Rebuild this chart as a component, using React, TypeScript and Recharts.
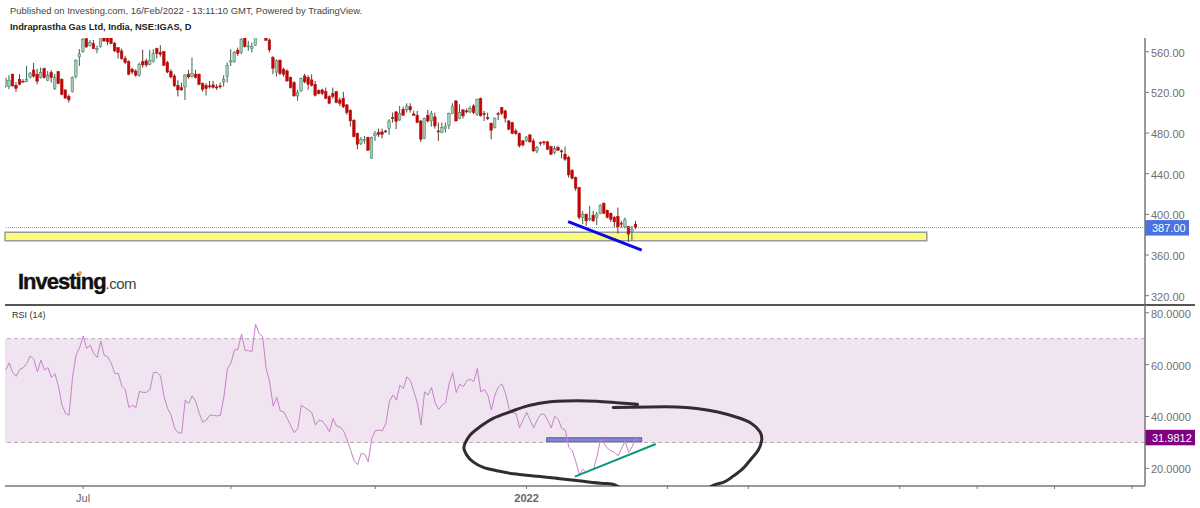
import * as React from "react";
import {
  ComposedChart,
  Bar,
  Line,
  Scatter,
  XAxis,
  YAxis,
  ReferenceArea,
  ReferenceLine,
} from "recharts";

// candles, in price units, one entry per trading day
const opens = [
  525.7, 525.7, 538, 527, 533, 531, 531, 535, 542, 538, 534.6, 543.4, 532, 539.5, 523.7, 540.5, 533, 522.4, 516, 520.8,
  535.6, 555, 560, 573, 566.4, 568, 562, 565, 574, 574, 574, 568.4, 564, 560.8, 553.3, 550.3, 542.8, 541, 536.9, 550.3,
  551, 547.7, 550.3, 563, 559.2, 560.2, 549.3, 540.5, 536.2, 527, 524.7, 525.4, 537.9, 535.6, 537.9, 537.9, 528.7, 527, 526.4, 527.4,
  525.4, 526.4, 530.3, 535.6, 550, 550, 561.5, 559.2, 573.9, 565, 563, 566.4, 578, 586, 574, 571.6, 554.2, 540, 551.6, 542.8,
  541.1, 534.6, 529.6, 516.5, 521.4, 536.2, 534.6, 532.3, 528, 522, 522.4, 520.8, 515.9, 518.8, 520.8, 512.6, 514.2, 507.7, 502.4, 492.6,
  479.8, 469.6, 472.8, 475.6, 455.2, 477.2, 480.5, 481.1, 482.1, 484.7, 495.2, 500.8, 492.9, 503.4, 502.8, 506, 498.8, 497.5, 491.9, 474.6,
  497.5, 491.9, 495.9, 482.1, 480.5, 484.7, 487.7, 499.5, 511.6, 494.2, 502.8, 501.8, 500.8, 506.7, 498.5, 514.2, 499.2, 495.2, 489.7, 485.4,
  499.2, 505, 501.8, 491.9, 490.3, 482.1, 479.5, 472.3, 472.3, 478.2, 472.3, 462.4, 470.6, 471.3, 471.3, 466.7, 460.8, 465.7, 462.4, 459.2,
  455.9, 443.4, 436.2, 426.4, 396.9, 400.2, 395.2, 399.2, 396.9, 401.1, 411, 404.1, 401.1, 396.9, 397.9, 391.3, 387.7, 388, 383.1, 390.3,
];
const highs = [
  534, 536.9, 538, 530, 538, 533, 546, 540, 549, 543, 544.4, 544.4, 541, 542, 538, 541, 533.6, 523, 518, 535.6,
  552.6, 562.5, 573.9, 574, 571.6, 571.6, 566, 577, 575.6, 575.6, 575.6, 569.7, 564.7, 563, 555.9, 551.6, 544.4, 542.8, 549.3, 562,
  553.3, 561.8, 562.5, 564, 566.4, 560.8, 551, 542.8, 538, 532, 529.7, 538, 542, 554.2, 542, 538.5, 529.7, 529, 531.3, 531.3,
  528, 529.7, 536.9, 549.3, 562.5, 560.8, 564, 573.9, 575, 570.6, 569, 575.6, 590, 592, 578.9, 573, 555.9, 552.6, 552.6, 544.4,
  542.8, 535.5, 531, 522.4, 534.6, 538.2, 536.9, 537.8, 531.3, 523, 523.7, 524.7, 517.2, 524.7, 521.4, 514.9, 520.5, 508.5, 503.4, 493.6,
  480.4, 476.2, 477.2, 476.5, 476.5, 482.1, 484.4, 484.4, 483.1, 493.6, 500.1, 501.8, 506.7, 506, 509.3, 509.3, 501.8, 501.8, 492.9, 495.2,
  502.8, 501.8, 500.1, 490.3, 490.3, 490.3, 500.1, 509.3, 512.3, 508.3, 503.4, 504, 506.7, 508.3, 513.9, 514.9, 501.8, 500.1, 490.3, 495.2,
  500.8, 505.7, 502.8, 492.9, 491, 484.4, 480.5, 473.3, 477.2, 478.8, 474.6, 467.4, 471.6, 472.3, 472.3, 467.4, 467.4, 467.4, 464, 466.7,
  457.5, 444.4, 437.2, 427, 403.4, 400.8, 408.4, 403.4, 402.5, 410, 411.6, 404.4, 401.8, 398.5, 406.7, 393.6, 396.9, 388.7, 388.7, 393.6,
];
const lows = [
  524.7, 523, 525.7, 520.5, 527, 530, 530, 533.6, 534.6, 528, 533.6, 533.6, 531, 529.7, 522.4, 528, 517.2, 514, 510, 519.8,
  533.6, 546, 559, 563.8, 565, 562.5, 558.5, 564, 569.7, 566.4, 567.4, 559.8, 553.3, 552, 547.7, 536.9, 537.9, 535.6, 535.6, 544.4,
  545, 546.7, 549.3, 553.3, 555.2, 546, 538.8, 533.6, 525.4, 516, 521.5, 512.6, 533.6, 534.6, 533.6, 527, 520.8, 517, 523.7, 523.7,
  522.4, 523.7, 525.7, 529.7, 546, 549.3, 555.9, 557.5, 564, 560.8, 559.2, 565.7, 574.5, 575, 570.6, 559.2, 537.9, 535.6, 536.9, 535.6,
  530.3, 523.7, 515.9, 511.6, 520.5, 529, 522.4, 525.7, 515.9, 518, 517.2, 513.3, 508.3, 513.9, 509.3, 506.7, 504.7, 498, 486.4, 475.6,
  464, 468, 469.6, 462.4, 454.8, 472.3, 476.2, 474.6, 480.1, 478.2, 490.3, 483.8, 491.9, 497, 500.1, 500.1, 496.9, 489.7, 471.3, 473.9,
  490.3, 486.4, 484.4, 472.3, 479.8, 480.5, 483.8, 498.5, 491.3, 493.6, 494.2, 499.5, 499.5, 498.5, 496.9, 496.2, 491.9, 492.9, 473.9, 484.4,
  492.9, 497.5, 490.3, 482.8, 478.8, 478.2, 465.7, 466.7, 471.3, 470.6, 461.5, 460.2, 467.4, 468, 463.1, 458.2, 459.2, 462.4, 455, 452.6,
  436.2, 434.6, 423.1, 395, 390.3, 388.7, 393.6, 392.6, 389.3, 400.2, 400.2, 396.2, 392.6, 387, 381.1, 387, 386, 373, 374, 385.4,
];
const closes = [
  534, 532, 526.4, 524, 528, 530.5, 533, 539, 536, 531, 539.5, 534.6, 537, 534.6, 535, 528.7, 518, 514.3, 512.6, 534.6,
  551.6, 558, 572.3, 564.7, 569, 563, 563, 574, 570.6, 569.7, 568, 560.8, 559.2, 553.3, 549.3, 537.9, 540, 536.9, 547.7, 547,
  547, 551.6, 558.5, 558.2, 557.5, 546.7, 540, 535.2, 526.4, 522.4, 522.4, 537, 535.2, 538.8, 534.6, 528, 523, 523.7, 525.7, 525,
  524.7, 525.4, 533, 546.7, 551, 559.2, 558.2, 572.3, 565, 565.7, 565, 573.9, 586, 580, 571.3, 561.8, 543.8, 551, 538.8, 537.9,
  531.3, 524.7, 516.5, 519.8, 533.6, 530.3, 528, 527, 517.2, 518.8, 518.8, 514.2, 509.3, 515.9, 510, 509.3, 505.7, 500.1, 492, 476.5,
  469, 473.9, 473.5, 463.1, 475.6, 479.5, 478.8, 478.8, 481.1, 491.9, 494.2, 491.3, 499.5, 497.5, 506.7, 502.8, 497.5, 490.3, 473.9, 494.6,
  491.9, 499.5, 487, 481.1, 485.4, 486.4, 499.2, 506.7, 491.9, 500.1, 496.9, 500.8, 504, 500.1, 513.3, 496.9, 498.2, 494.2, 482.8, 494.6,
  498.2, 499.5, 494.6, 483.8, 479.5, 479.5, 467.4, 468.3, 476.2, 471.3, 462.4, 465.7, 469.6, 470.6, 464.1, 459.2, 464.7, 463.1, 461.8, 454.2,
  438.8, 435.5, 425.7, 396.9, 400.2, 393.6, 396, 393.6, 400.2, 409, 401.1, 396.9, 395.2, 392.6, 387.7, 390.3, 394.6, 380.5, 385.4, 387,
];

const rsiValues = [
  57.9, 60.7, 56.9, 55.5, 58.2, 58.8, 60.5, 63.4, 62, 57.2, 61.7, 57.9, 58.9, 55.1, 56.5, 51.5, 44.4, 41.2, 40.5, 55.3,
  63.7, 66.6, 71, 66.3, 67.5, 64.3, 62.8, 69.1, 63.6, 63, 60.5, 56.6, 56.6, 51.7, 50.2, 43.5, 44.3, 43.5, 49.7, 49.3,
  49.3, 50.4, 57, 57, 55.6, 47.6, 43.1, 40.5, 35.4, 33.7, 33.6, 46.3, 45, 48, 45.7, 41.2, 37.8, 38.6, 40.5, 40.5,
  40.2, 40.5, 47.6, 58.5, 60.7, 65.6, 65.9, 71.8, 65.6, 65.4, 65.1, 75.6, 72, 70.8, 58.5, 53.4, 44, 47.4, 42.2, 41.8,
  39.2, 36.4, 33.7, 35.4, 44.4, 43.4, 42.5, 41.4, 36.7, 38.6, 38.2, 36.4, 34.1, 39.2, 36.3, 36, 34.4, 31.1, 27, 22.9,
  21.4, 25.8, 25.5, 22.5, 31.5, 34.5, 34.8, 34.5, 37.3, 45.7, 48.3, 46.3, 52.1, 50.8, 55.3, 53.8, 49.5, 45, 36.7, 49.5,
  48.3, 51.2, 45.3, 42.7, 44.4, 45.4, 52.8, 56.9, 49.2, 52.5, 51.5, 53.8, 54.4, 53.4, 58.5, 49.5, 50.4, 48.3, 42.5, 48.3,
  51.5, 52.5, 48.9, 43.1, 41.4, 41.2, 35.6, 38.6, 41.6, 38.6, 35.6, 38.6, 40.9, 40.9, 38.6, 35.6, 40.1, 38.9, 35.4, 34.8,
  28.1, 26.8, 22.5, 17.4, 19.6, 18.4, 19.3, 19.6, 24.5, 31.3, 29.6, 27.7, 26.8, 26.1, 24.9, 27.7, 30.5, 26.1, 28.3, 31.98,
];

// the hand drawn ring on the RSI pane, as [bar index, rsi]
const ringPoints = [
  [179.5, 44.7], [173.6, 45.3], [167.9, 45.9], [162.2, 46.1], [156.5, 45.9], [152.7, 45.3], [148, 44], [143.3, 41.8],
  [138.5, 39.3], [134.7, 36], [131.9, 32.8], [130.5, 29.6], [130.2, 27.7], [131, 25.1], [132.8, 22.5], [135.7, 20.4],
  [139.5, 19.1], [144.2, 17.9], [150.9, 17], [157.5, 16], [164.1, 15], [169.8, 14.2], [173.1, 13.6], [178, 11],
  [190, 9.5], [197, 10.5], [201, 13.4], [203.9, 14.6], [206.7, 17], [209.5, 20], [211.9, 23.8], [213.8, 27],
  [214.8, 30.9], [214.3, 34.1], [211.9, 37.3], [207.7, 39.7], [202, 41.8], [196.3, 43.1], [190.6, 43.7], [183, 43.7],
  [172.6, 43.5],
];

const priceTicks = [320, 360, 400, 440, 480, 520, 560];
const rsiTicks = [20, 40, 60, 80];
const timeTicks = [22, 64, 105, 148, 188, 211, 254, 276, 298, 320];
const timeLabels: Record<number, string> = { 22: "Jul", 148: "2022" };

const lastPrice = 387;
const lastRsi = 31.9812;

const FONT = "'Liberation Sans', Arial, sans-serif";
const AXIS = "#777777";
const X_DOMAIN: [number, number] = [-0.2, 323.7];

const candles = opens.map((o, i) => ({ i, open: o, high: highs[i], low: lows[i], close: closes[i], range: [lows[i], highs[i]] }));
const rsiRows = rsiValues.map((rsi, i) => ({ i, rsi }));
const ringRows = ringPoints.map(([i, rsi]) => ({ i, rsi }));

function Candle(props: any) {
  const { x, y, width, height, payload } = props;
  const up = payload.close >= payload.open;
  const perUnit = height / (payload.high - payload.low);
  const top = y + (payload.high - Math.max(payload.open, payload.close)) * perUnit;
  const bodyH = Math.max(Math.abs(payload.open - payload.close) * perUnit, 1);
  const cx = x + width / 2;
  return (
    <g>
      <line x1={cx} x2={cx} y1={y} y2={y + height} stroke={up ? "#2f6a4c" : "#5d3f35"} strokeWidth={1} />
      <rect
        x={cx - 1.3}
        y={top}
        width={2.6}
        height={bodyH}
        fill={up ? "#a9c9b4" : "#cc0000"}
        stroke={up ? "#3f7a5c" : "#a51818"}
        strokeWidth={0.5}
      />
    </g>
  );
}

function ValueTag({ viewBox, text, fill, w }: any) {
  const x = viewBox.x + viewBox.width;
  const y = viewBox.y;
  return (
    <g>
      <rect x={x} y={y - 7.5} width={w} height={15.5} fill={fill} />
      <text x={x + 7} y={y + 4.3} fill="#fff" fontSize={11} fontFamily={FONT}>
        {text}
      </text>
    </g>
  );
}

function TimeTick({ x, y, payload }: any) {
  const label = timeLabels[payload.value];
  if (!label) return null;
  return (
    <text x={x} y={y + 11} textAnchor="middle" fill="#666" fontSize={11} fontWeight={label === "2022" ? 700 : 400} fontFamily={FONT}>
      {label}
    </text>
  );
}

const tickStyle = { fill: "#707070", fontSize: 11, fontFamily: FONT, dy: 1 };

export default function App() {
  return (
    <div style={{ position: "absolute", left: 0, top: 0, width: 1200, height: 508, background: "#fff", fontFamily: FONT, overflow: "hidden" }}>
      <div style={{ position: "absolute", left: 10, top: 5, fontSize: 9.45, color: "#444", whiteSpace: "nowrap" }}>
        Published on Investing.com, 16/Feb/2022 - 13:11:10 GMT, Powered by TradingView.
      </div>
      <div style={{ position: "absolute", left: 10, top: 22, fontSize: 9.25, fontWeight: 700, color: "#222", whiteSpace: "nowrap" }}>
        Indraprastha Gas Ltd, India, NSE:IGAS, D
      </div>

      <div style={{ position: "absolute", left: 0, top: 0 }}>
        <ComposedChart width={1200} height={305} data={candles} margin={{ top: 38, right: 0, bottom: 1, left: 5 }}>
          <XAxis dataKey="i" type="number" domain={X_DOMAIN} allowDataOverflow hide />
          <YAxis
            orientation="right"
            width={55}
            domain={[311.8, 573.5]}
            allowDataOverflow
            ticks={priceTicks}
            tickFormatter={(v: number) => v.toFixed(2)}
            tick={tickStyle}
            tickSize={4}
            tickMargin={2}
            interval={0}
            axisLine={{ stroke: AXIS, strokeWidth: 1.5 }}
            tickLine={{ stroke: AXIS }}
          />
          <ReferenceArea x1={-0.2} x2={261.7} y1={374.1} y2={382.4} fill="#fbfb7c" fillOpacity={1} stroke="#9a9a9a" strokeWidth={1.5} />
          <ReferenceLine
            y={lastPrice}
            stroke="#7f96ea"
            strokeWidth={1}
            strokeDasharray="1 1"
            label={<ValueTag text={lastPrice.toFixed(2)} fill="#4a72e0" w={44} />}
          />
          <Bar dataKey="range" barSize={3} shape={Candle} isAnimationActive={false} />
          <ReferenceLine
            segment={[
              { x: 159.8, y: 392.8 },
              { x: 180.7, y: 364.8 },
            ]}
            stroke="#0a0ae0"
            strokeWidth={3}
          />
        </ComposedChart>
      </div>

      <div style={{ position: "absolute", left: 5, top: 304, width: 1190, height: 2, background: "#555" }} />

      <div style={{ position: "absolute", left: 18, top: 269, fontSize: 22, fontWeight: 700, letterSpacing: -1, color: "#111", whiteSpace: "nowrap", lineHeight: "26px", WebkitTextStroke: "0.4px #111" }}>
        Investing<span style={{ fontSize: 15, fontWeight: 400, letterSpacing: -0.5, color: "#444", WebkitTextStroke: "0" }}>.com</span>
      </div>
      <div style={{ position: "absolute", left: 78, top: 271, width: 4, height: 4, borderRadius: 2, background: "#f5a623" }} />

      <div style={{ position: "absolute", left: 12, top: 310, fontSize: 9, color: "#333", whiteSpace: "nowrap" }}>RSI (14)</div>

      <div style={{ position: "absolute", left: 0, top: 305 }}>
        <ComposedChart width={1200} height={203} data={rsiRows} margin={{ top: 0, right: 0, bottom: 0, left: 5 }}>
          <XAxis
            dataKey="i"
            type="number"
            domain={X_DOMAIN}
            allowDataOverflow
            ticks={timeTicks}
            tick={TimeTick}
            height={22}
            tickSize={3}
            interval={0}
            axisLine={{ stroke: AXIS, strokeWidth: 1.5 }}
            tickLine={{ stroke: AXIS }}
          />
          <YAxis
            dataKey="rsi"
            orientation="right"
            width={55}
            domain={[13.2, 83]}
            allowDataOverflow
            ticks={rsiTicks}
            tickFormatter={(v: number) => v.toFixed(4)}
            tick={tickStyle}
            tickSize={4}
            tickMargin={2}
            interval={0}
            axisLine={{ stroke: AXIS, strokeWidth: 1.5 }}
            tickLine={{ stroke: AXIS }}
          />
          <ReferenceArea y1={30} y2={70} fill="#f1e4f1" fillOpacity={1} stroke="none" />
          <ReferenceLine y={70} stroke="#b9a6b9" strokeDasharray="4 3" />
          <ReferenceLine y={30} stroke="#b9a6b9" strokeDasharray="4 3" />
          <ReferenceLine
            y={lastRsi}
            stroke="none"
            label={<ValueTag text={lastRsi.toFixed(4)} fill="#800080" w={50} />}
          />
          <ReferenceArea x1={153.7} x2={180.7} y1={30.2} y2={31.8} fill="#8088cc" fillOpacity={1} stroke="#5058b0" />
          <Line dataKey="rsi" stroke="#c483c8" strokeWidth={1} dot={false} isAnimationActive={false} />
          <Scatter
            data={ringRows}
            dataKey="rsi"
            line={{ stroke: "#332b33", strokeWidth: 3, strokeLinecap: "round" }}
            lineJointType="natural"
            shape={() => null}
            isAnimationActive={false}
          />
          <ReferenceLine
            segment={[
              { x: 161.7, y: 16.8 },
              { x: 184.7, y: 29.4 },
            ]}
            stroke="#0a9a7a"
            strokeWidth={2}
          />
        </ComposedChart>
      </div>
    </div>
  );
}
